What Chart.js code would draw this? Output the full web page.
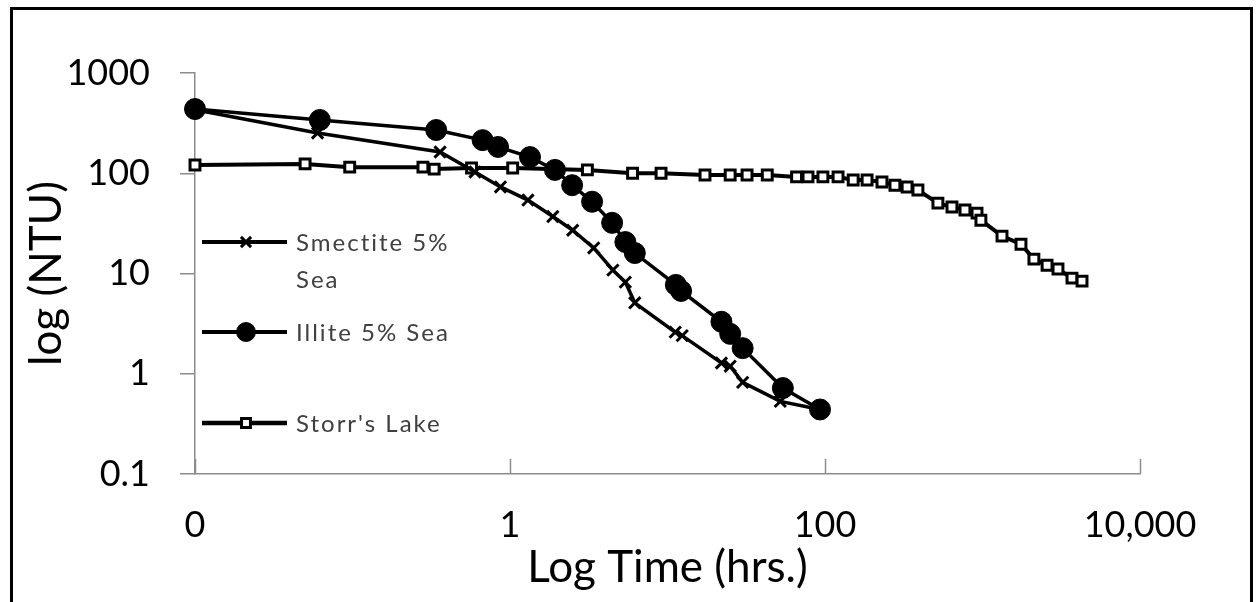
<!DOCTYPE html>
<html>
<head>
<meta charset="utf-8">
<script src="https://cdn.jsdelivr.net/npm/chart.js@4.4.1/dist/chart.umd.min.js"></script>
<style>
  html, body { margin: 0; padding: 0; background: #fff; }
  #wrap { width: 1257px; height: 602px; }
</style>
</head>
<body>
<div id="wrap"><canvas id="settlingChart" width="1257" height="602"></canvas></div>
<script>
// values (hours, NTU)
var smectiteHours = [0.01, 0.06, 0.36, 0.6, 0.87, 1.3, 1.87, 2.5, 3.4, 4.5, 5.4, 6.2, 11.2, 12.4, 22, 25, 30, 52, 93];
var smectiteNTU = [430, 252, 163, 103, 73, 54, 37, 27, 18, 10.8, 8.2, 5.1, 2.6, 2.4, 1.28, 1.19, 0.82, 0.53, 0.44];

var illiteHours = [0.01, 0.062, 0.34, 0.67, 0.84, 1.34, 1.93, 2.48, 3.32, 4.45, 5.4, 6.2, 11.3, 12.2, 22, 25, 30, 54, 93];
var illiteNTU = [437, 340, 270, 214, 183, 145, 108, 76, 52, 32, 20.6, 16, 7.7, 6.7, 3.3, 2.5, 1.8, 0.72, 0.44];

var storrHours = [0.01, 0.05, 0.096, 0.28, 0.33, 0.57, 1.04, 3.1, 6.0, 9.1, 17.3, 25, 32, 43, 66, 78, 97, 121, 151, 185, 230, 278, 332, 389, 521, 640, 774, 923, 977, 1330, 1755, 2120, 2570, 3015, 3700, 4285];
var storrNTU = [121, 124, 115, 115, 110, 113, 113, 108, 100, 100, 96, 96, 96, 96, 92, 92, 92, 92, 85.5, 85.5, 81.7, 76, 72.8, 68, 50.4, 46, 43, 40, 34, 23.6, 19.6, 13.9, 12.1, 11.1, 9.0, 8.4];

var seriesNames = ["Smectite 5% Sea", "Illite 5% Sea", "Storr's Lake"];
var xTickValues = [0.01, 1, 100, 10000];
var xTickLabels = ["0", "1", "100", "10,000"];
var yTickValues = [0.1, 1, 10, 100, 1000];
var yTickLabels = ["0.1", "1", "10", "100", "1000"];

function pairUp(xs, ys) {
  return xs.map(function (x, i) { return { x: x, y: ys[i] }; });
}

var FONT = "Lato, 'Open Sans', sans-serif";
var AXIS_GRAY = "#8c8c8c";

// outer frame, upward x ticks and the in-plot legend
var decorations = {
  id: "decorations",
  afterDraw: function (chart) {
    var ctx = chart.ctx;
    var area = chart.chartArea;
    var xs = chart.scales.x;

    ctx.save();
    ctx.strokeStyle = "#000";
    ctx.lineWidth = 3;
    ctx.strokeRect(11.5, 8.5, 1240, 700);

    ctx.strokeStyle = AXIS_GRAY;
    ctx.lineWidth = 1.5;
    xTickValues.forEach(function (v) {
      var px = Math.round(xs.getPixelForValue(v)) + 0.5;
      ctx.beginPath();
      ctx.moveTo(px, area.bottom);
      ctx.lineTo(px, area.bottom - 15);
      ctx.stroke();
    });

    // legend
    var rowY = [242, 332, 423];
    ctx.font = "24px " + FONT;
    ctx.letterSpacing = "2px";
    ctx.textBaseline = "middle";
    chart.data.datasets.forEach(function (ds, i) {
      var y = rowY[i];
      ctx.strokeStyle = "#000";
      ctx.lineWidth = ds.borderWidth + 0.5;
      ctx.beginPath();
      ctx.moveTo(202, y);
      ctx.lineTo(287, y);
      ctx.stroke();
      ctx.fillStyle = ds.pointBackgroundColor;
      ctx.strokeStyle = "#000";
      ctx.lineWidth = ds.pointBorderWidth;
      Chart.helpers.drawPoint(ctx, {
        pointStyle: ds.pointStyle,
        radius: ds.pointRadius * 0.9,
        rotation: 0,
        borderWidth: ds.pointBorderWidth * 0.8
      }, 246, y);

      // wrap label
      var words = ds.label.split(" ");
      var lines = [];
      var cur = "";
      words.forEach(function (w) {
        var t = cur ? cur + " " + w : w;
        if (ctx.measureText(t).width > 165 && cur) {
          lines.push(cur);
          cur = w;
        } else {
          cur = t;
        }
      });
      lines.push(cur);
      ctx.fillStyle = "#404040";
      lines.forEach(function (ln, k) {
        ctx.fillText(ln, 296, y + 1 + k * 37);
      });
    });
    ctx.restore();
  }
};

var ctx = document.getElementById("settlingChart").getContext("2d");

var settlingChart = new Chart(ctx, {
  type: "line",
  data: {
    datasets: [
      {
        label: seriesNames[0],
        data: pairUp(smectiteHours, smectiteNTU),
        borderColor: "#000",
        borderWidth: 3.5,
        pointStyle: "crossRot",
        pointRadius: 8,
        pointBorderWidth: 3,
        pointBorderColor: "#000",
        pointBackgroundColor: "#000",
        clip: false
      },
      {
        label: seriesNames[1],
        data: pairUp(illiteHours, illiteNTU),
        borderColor: "#000",
        borderWidth: 3.5,
        pointStyle: "circle",
        pointRadius: 10.5,
        pointBorderWidth: 1,
        pointBorderColor: "#000",
        pointBackgroundColor: "#000",
        clip: false
      },
      {
        label: seriesNames[2],
        data: pairUp(storrHours, storrNTU),
        borderColor: "#000",
        borderWidth: 4,
        pointStyle: "rect",
        pointRadius: 7,
        pointBorderWidth: 3,
        pointBorderColor: "#000",
        pointBackgroundColor: "#fff",
        clip: false
      }
    ]
  },
  options: {
    responsive: false,
    animation: false,
    layout: { padding: { left: 0, top: 73, right: 117, bottom: 0 } },
    plugins: {
      legend: { display: false },
      tooltip: { enabled: false }
    },
    elements: { line: { tension: 0 } },
    scales: {
      x: {
        type: "logarithmic",
        min: 0.01,
        max: 10000,
        afterBuildTicks: function (scale) {
          scale.ticks = xTickValues.map(function (v) { return { value: v }; });
        },
        afterFit: function (scale) { scale.height = 128; },
        ticks: {
          autoSkip: false,
          maxRotation: 0,
          padding: 30,
          color: "#000",
          font: { family: FONT, size: 36 },
          callback: function (value) {
            var i = xTickValues.indexOf(value);
            return i >= 0 ? xTickLabels[i] : "";
          }
        },
        grid: { display: true, drawOnChartArea: false, drawTicks: false },
        border: { display: true, color: AXIS_GRAY, width: 1.5 },
        title: {
          display: true,
          text: "Log Time (hrs.)",
          color: "#000",
          font: { family: FONT, size: 44 },
          padding: { top: 0, bottom: 8 }
        }
      },
      y: {
        type: "logarithmic",
        min: 0.1,
        max: 1000,
        afterBuildTicks: function (scale) {
          scale.ticks = yTickValues.map(function (v) { return { value: v }; });
        },
        afterFit: function (scale) { scale.width = 195; },
        ticks: {
          autoSkip: false,
          padding: 30,
          color: "#000",
          font: { family: FONT, size: 36 },
          callback: function (value) {
            var i = yTickValues.indexOf(value);
            return i >= 0 ? yTickLabels[i] : "";
          }
        },
        grid: {
          display: true,
          drawOnChartArea: false,
          drawTicks: true,
          tickLength: 15,
          color: AXIS_GRAY,
          lineWidth: 1.5
        },
        border: { display: true, color: AXIS_GRAY, width: 1.5 },
        title: {
          display: true,
          text: "log (NTU)",
          color: "#000",
          font: { family: FONT, size: 44 },
          padding: { top: 20, bottom: 0 }
        }
      }
    }
  },
  plugins: [decorations]
});
</script>
</body>
</html>
